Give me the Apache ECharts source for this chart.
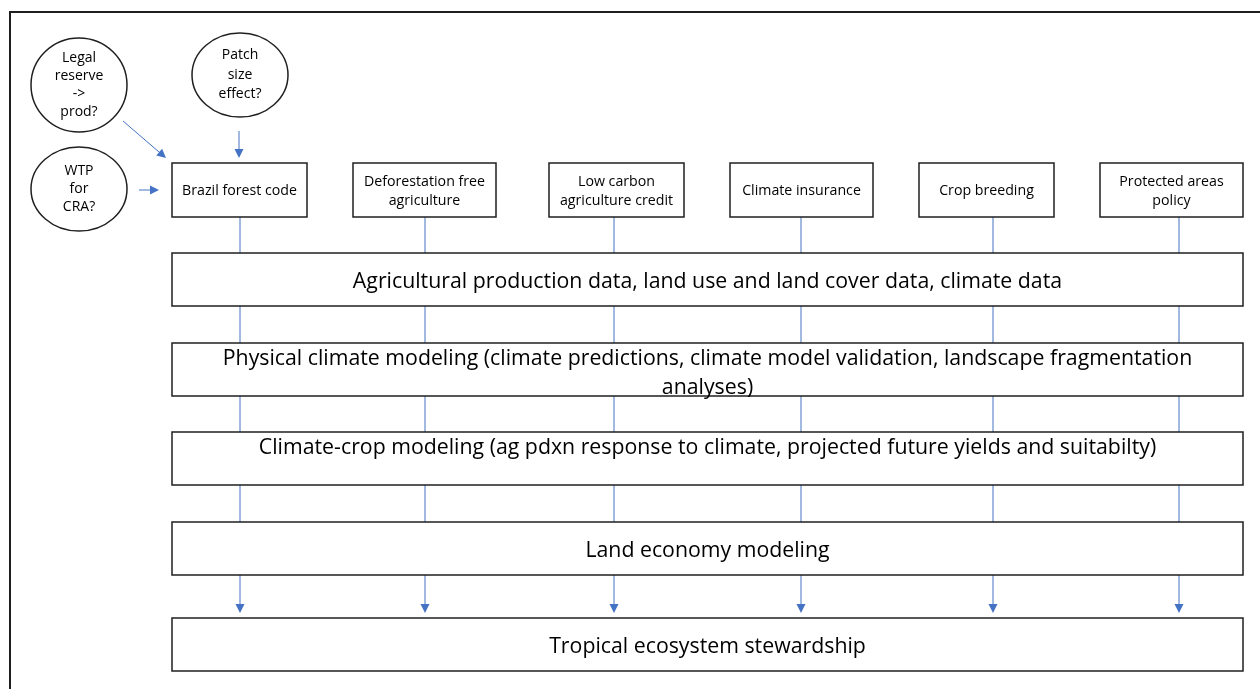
<!DOCTYPE html>
<html>
<head>
<meta charset="utf-8">
<title>Policy to stewardship flow</title>
<script src="https://cdn.jsdelivr.net/npm/echarts@6/dist/echarts.min.js"></script>
<style>
html, body { margin: 0; padding: 0; background: #fff; }
#main { width: 1260px; height: 689px; }
</style>
</head>
<body>
<div id="main"></div>
<script>
// texts of the diagram
var questions = ['Legal\nreserve\n->\nprod?', 'Patch\nsize\neffect?', 'WTP\nfor\nCRA?'];
var policies = ['Brazil forest code', 'Deforestation free\nagriculture', 'Low carbon\nagriculture credit',
	'Climate insurance', 'Crop breeding', 'Protected areas\npolicy'];
var layers = [
	'Agricultural production data, land use and land cover data, climate data',
	'Physical climate modeling (climate predictions, climate model validation, landscape fragmentation\nanalyses)',
	'Climate-crop modeling (ag pdxn response to climate, projected future yields and suitabilty)',
	'Land economy modeling',
	'Tropical ecosystem stewardship'
];

// layout, in pixels of a hidden 1260 x 689 value grid
var FONT = '"Open Sans"';
var BLUE = '#4472C4';
var INK = '#1f1f1f';

var qCenter = [[79, 85], [240, 75], [79, 189]];
var qRadius = [[48, 47], [48, 42], [48, 42]];
var qLineH = [18, 19.5, 18];
var qArrows = [[[123, 121], [166, 158]], [[239, 131], [239, 158]], [[139, 190], [159, 190]]];

var policyX = [[172, 307], [353, 496], [549, 684], [730, 873], [919, 1054], [1100, 1243]];
var policyY = [163, 217];
var colX = [240, 425, 614, 801, 993, 1179];

var layerX = [172, 1243];
var layerY = [253, 343, 432, 522, 618];
var layerH = 53;
var layerTopText = [false, true, true, false, false];

function idx(arr) {
	return arr.map(function(d, i) { return [i, 0]; });
}

function head(api, p0, p1, len, half) {
	var a = api.coord(p0), b = api.coord(p1);
	var dx = b[0] - a[0], dy = b[1] - a[1];
	var l = Math.sqrt(dx * dx + dy * dy);
	dx /= l; dy /= l;
	var bx = b[0] - dx * len, by = b[1] - dy * len;
	return {
		type: 'polygon',
		shape: { points: [[b[0], b[1]], [bx - dy * half, by + dx * half], [bx + dy * half, by - dx * half]] },
		style: { fill: BLUE, stroke: null }
	};
}

var myChart = echarts.init(document.getElementById('main'));

var option = {
	animation: false,
	backgroundColor: '#fff',
	grid: { left: 0, right: 0, top: 0, bottom: 0 },
	xAxis: { type: 'value', min: 0, max: 1260, show: false },
	yAxis: { type: 'value', min: 0, max: 689, inverse: true, show: false },
	series: [
		// blue connectors running down each policy column
		{
			type: 'custom', silent: true, data: idx(colX),
			renderItem: function(params, api) {
				var x = colX[params.dataIndex];
				var tip = layerY[4] - 5;
				var a = api.coord([x, policyY[1]]), b = api.coord([x, tip]);
				return {
					type: 'group',
					children: [
						{ type: 'line', shape: { x1: a[0], y1: a[1], x2: b[0], y2: b[1] - 6 },
							style: { stroke: BLUE, lineWidth: 1 } },
						head(api, [x, tip - 20], [x, tip], 9, 4.5)
					]
				};
			}
		},
		// wide layer boxes
		{
			type: 'custom', silent: true, data: idx(layers),
			renderItem: function(params, api) {
				var i = params.dataIndex;
				var tl = api.coord([layerX[0], layerY[i]]);
				var br = api.coord([layerX[1], layerY[i] + layerH]);
				var top = layerTopText[i];
				return {
					type: 'group',
					children: [
						{ type: 'rect', shape: { x: tl[0], y: tl[1], width: br[0] - tl[0], height: br[1] - tl[1] },
							style: { fill: '#fff', stroke: INK, lineWidth: 1.5 } },
						{ type: 'text', style: {
							text: layers[i], x: (tl[0] + br[0]) / 2,
							y: top ? tl[1] + 1 : (tl[1] + br[1]) / 2 + 2,
							align: 'center', verticalAlign: top ? 'top' : 'middle',
							fontFamily: FONT, fontSize: 21.3, lineHeight: 29, fill: '#000' } }
					]
				};
			}
		},
		// policy boxes
		{
			type: 'custom', silent: true, data: idx(policies),
			renderItem: function(params, api) {
				var i = params.dataIndex;
				var tl = api.coord([policyX[i][0], policyY[0]]);
				var br = api.coord([policyX[i][1], policyY[1]]);
				return {
					type: 'group',
					children: [
						{ type: 'rect', shape: { x: tl[0], y: tl[1], width: br[0] - tl[0], height: br[1] - tl[1] },
							style: { fill: '#fff', stroke: INK, lineWidth: 1.5 } },
						{ type: 'text', style: {
							text: policies[i], x: (tl[0] + br[0]) / 2, y: (tl[1] + br[1]) / 2 + 1,
							align: 'center', verticalAlign: 'middle',
							fontFamily: FONT, fontSize: 14.2, lineHeight: 19, fill: '#000' } }
					]
				};
			}
		},
		// question bubbles and their arrows
		{
			type: 'custom', silent: true, data: idx(questions),
			renderItem: function(params, api) {
				var i = params.dataIndex;
				var c = api.coord(qCenter[i]);
				var ar = qArrows[i];
				var a = api.coord(ar[0]), b = api.coord(ar[1]);
				var dx = b[0] - a[0], dy = b[1] - a[1];
				var l = Math.sqrt(dx * dx + dy * dy);
				return {
					type: 'group',
					children: [
						{ type: 'ellipse', shape: { cx: c[0], cy: c[1], rx: qRadius[i][0], ry: qRadius[i][1] },
							style: { fill: '#fff', stroke: INK, lineWidth: 1.5 } },
						{ type: 'text', style: {
							text: questions[i], x: c[0], y: c[1],
							align: 'center', verticalAlign: 'middle',
							fontFamily: FONT, fontSize: 14, lineHeight: qLineH[i], fill: '#000' } },
						{ type: 'line', shape: { x1: a[0], y1: a[1], x2: b[0] - dx / l * 6, y2: b[1] - dy / l * 6 },
							style: { stroke: BLUE, lineWidth: 1 } },
						head(api, ar[0], ar[1], 9, 4.5)
					]
				};
			}
		},
		// outer frame, cut off at right and bottom
		{
			type: 'custom', silent: true, data: [[0, 0]],
			renderItem: function(params, api) {
				var tl = api.coord([10, 12]);
				return { type: 'rect', shape: { x: tl[0], y: tl[1], width: 1300, height: 700 },
					style: { fill: null, stroke: INK, lineWidth: 2 } };
			}
		}
	]
};

myChart.setOption(option);
window.onresize = function() {
	myChart.resize();
};
</script>
</body>
</html>
